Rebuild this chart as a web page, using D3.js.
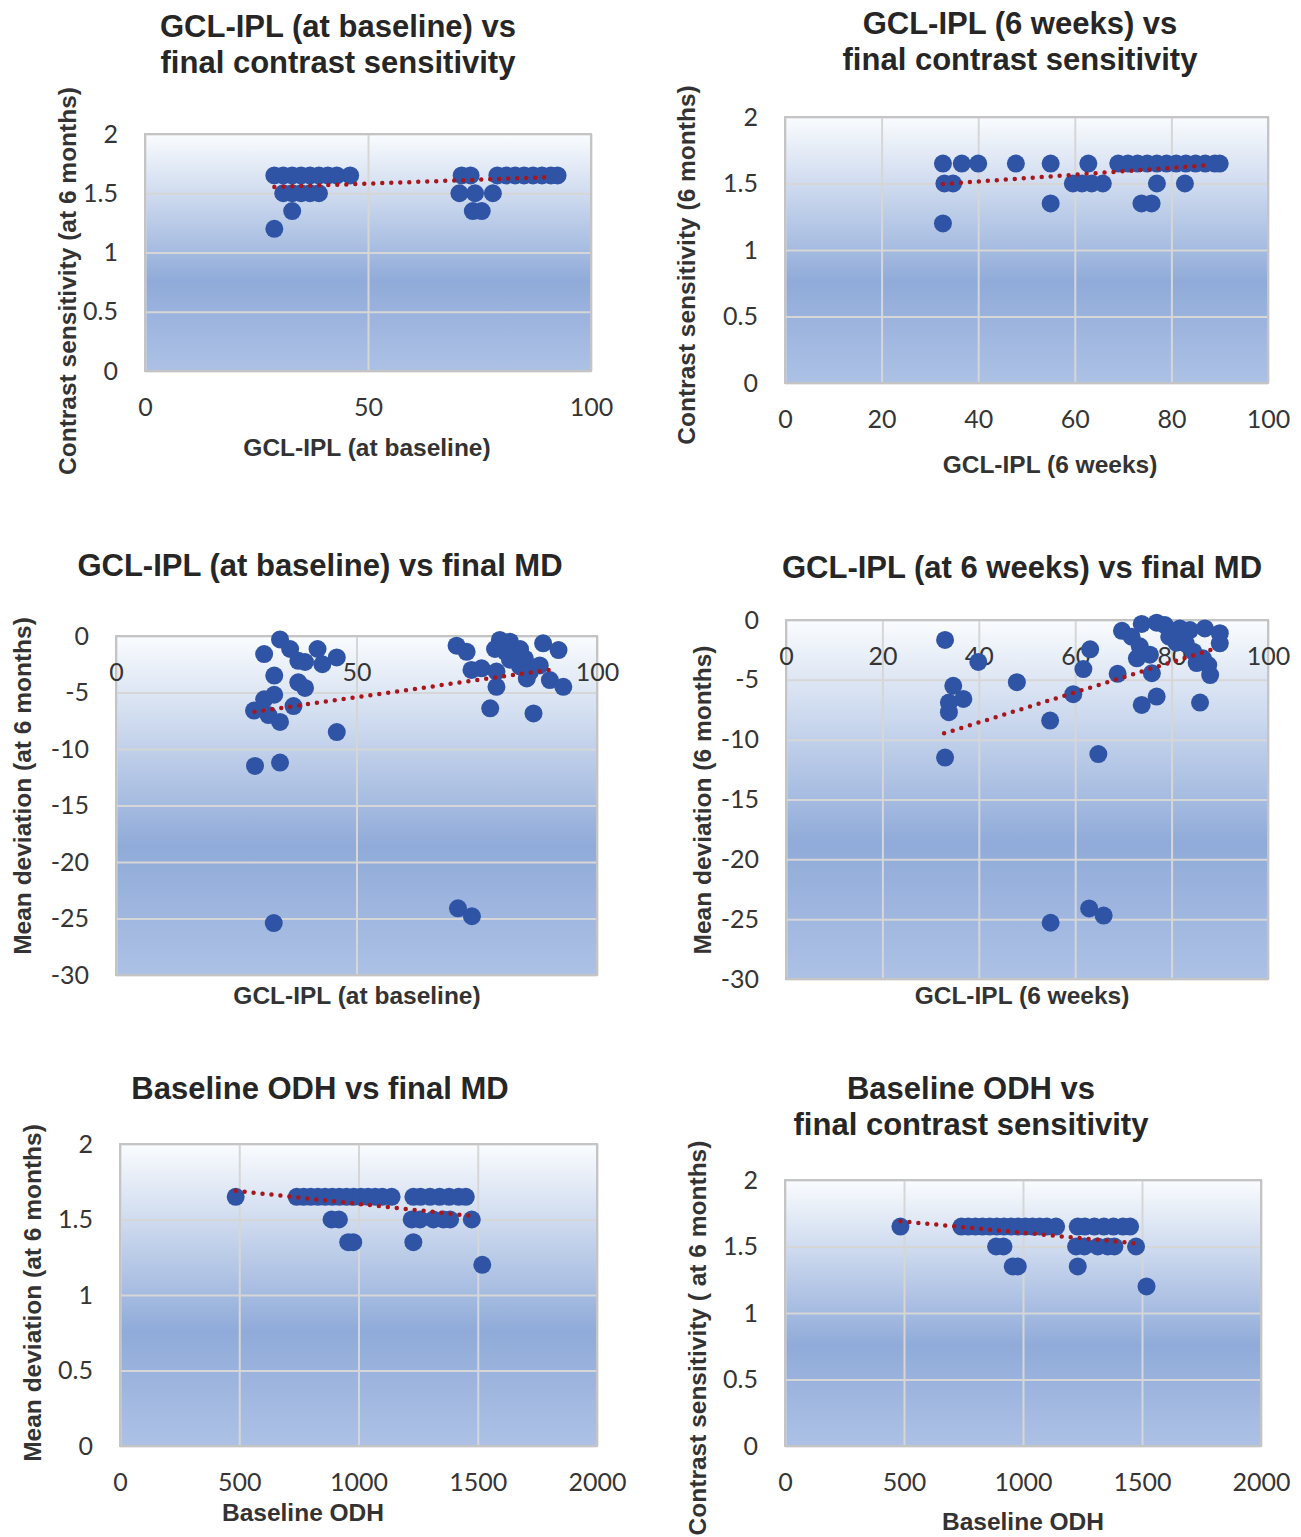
<!DOCTYPE html>
<html>
<head>
<meta charset="utf-8">
<style>
  body { margin: 0; background: #fff; }
  .tick text { font-family: Lato, "Open Sans", sans-serif; font-size: 25px; fill: #353535; }
  .title { font-family: "Liberation Sans", Arial, sans-serif; font-weight: bold; font-size: 31px; fill: #262626; }
  .axt { font-family: "Liberation Sans", Arial, sans-serif; font-weight: bold; font-size: 24.5px; fill: #333; }
</style>
</head>
<body>
<div id="chart"></div>
<script src="https://cdn.jsdelivr.net/npm/d3@7"></script>
<script>
// ---- data ----
// panel 1: GCL-IPL (baseline) vs final contrast sensitivity
const gclBase_cs = [29, 31, 33, 35, 37, 39, 41, 43, 46, 71, 73, 79, 81, 83, 85, 87, 89, 91, 92.5,
                    31, 33, 35, 37, 39, 70.5, 74, 78,
                    33, 73.5, 75.5,
                    29]
const cs_p1 = [1.65, 1.65, 1.65, 1.65, 1.65, 1.65, 1.65, 1.65, 1.65, 1.65, 1.65, 1.65, 1.65, 1.65, 1.65, 1.65, 1.65, 1.65, 1.65,
               1.5, 1.5, 1.5, 1.5, 1.5, 1.5, 1.5, 1.5,
               1.35, 1.35, 1.35,
               1.2]
const trend_p1 = [[29, 1.553], [91.3, 1.637]]

// panel 2: GCL-IPL (6 weeks) vs final contrast sensitivity
const gcl6w_cs = [32.7, 36.6, 40, 47.8, 55, 62.8, 69, 71, 73, 75, 77, 79, 81, 83, 85, 87, 89, 90,
                  33, 34.8, 59.6, 61.5, 63.5, 65.8, 77, 82.8,
                  55, 73.8, 75.9,
                  32.7]
const cs_p2 = [1.65, 1.65, 1.65, 1.65, 1.65, 1.65, 1.65, 1.65, 1.65, 1.65, 1.65, 1.65, 1.65, 1.65, 1.65, 1.65, 1.65, 1.65,
               1.5, 1.5, 1.5, 1.5, 1.5, 1.5, 1.5, 1.5,
               1.35, 1.35, 1.35,
               1.2]
const trend_p2 = [[32.7, 1.496], [88.3, 1.639]]

// panel 3: GCL-IPL (baseline) vs final MD
const gclBase_md = [34.1, 30.8, 36.2, 37.9, 39.3, 41.9, 42.9, 45.9, 32.9, 37.9, 39.3, 32.9, 30.8, 28.7, 31.7, 34.1, 36.9, 45.9, 28.9, 34.1, 32.8,
                    70.8, 72.9, 79.8, 81.9, 78.8, 81, 84, 81.9, 85, 88.8, 92, 73.9, 76, 79.1, 79.1, 85.4, 88.1, 90.2, 93, 77.8, 86.8, 84, 86, 71.1, 74]
const md_p3 = [-0.3, -1.6, -1.15, -2.2, -2.3, -1.15, -2.5, -1.9, -3.5, -4.1, -4.6, -5.2, -5.6, -6.6, -7.0, -7.6, -6.2, -8.5, -11.5, -11.2, -25.4,
               -0.86, -1.4, -0.35, -0.5, -1.15, -1.4, -1.15, -2.1, -2.0, -0.65, -1.24, -3.0, -2.86, -3.15, -4.5, -3.75, -2.6, -3.9, -4.5, -6.4, -6.85, -2.7, -3.2, -24.1, -24.8]
const trend_p3 = [[28.8, -6.7], [91.6, -2.9]]

// panel 4: GCL-IPL (6 weeks) vs final MD
const gcl6w_md = [33, 39.9, 34.7, 33.8, 36.8, 33.8, 47.9, 54.8, 33, 59.6, 64.8, 61.7, 63.1, 68.8, 73.8, 76.9, 85.9, 75.9,
                  69.7, 71.7, 73.8, 76.9, 78.6, 81.7, 83.8, 86.9, 90, 90, 79.5, 81, 83, 73.4, 72.8, 75.5, 84.5, 85.2, 87.6, 88, 86.5,
                  54.9, 62.9, 65.9]
const md_p4 = [-1.67, -3.5, -5.5, -6.9, -6.6, -7.7, -5.2, -8.4, -11.5, -6.2, -11.2, -4.1, -2.45, -4.5, -7.1, -6.4, -6.9, -4.45,
               -0.9, -1.4, -0.33, -0.22, -0.42, -0.7, -0.84, -0.7, -1.1, -1.95, -1.4, -1.9, -2.0, -2.2, -3.2, -2.9, -2.65, -3.6, -3.76, -4.6, -3.2,
               -25.3, -24.1, -24.7]
const trend_p4 = [[32.8, -9.47], [89.7, -2.3]]

// panels 5 and 6: baseline ODH vs final value (same points in both)
const odh = [485, 741, 770, 800, 830, 860, 890, 920, 950, 980, 1010, 1040, 1070, 1100, 1139, 1230, 1260, 1300, 1340, 1380, 1420, 1450,
             887, 918, 1223, 1258, 1314, 1356, 1384, 1475,
             957, 978, 1230,
             1519]
const cs_odh = [1.65, 1.65, 1.65, 1.65, 1.65, 1.65, 1.65, 1.65, 1.65, 1.65, 1.65, 1.65, 1.65, 1.65, 1.65, 1.65, 1.65, 1.65, 1.65, 1.65, 1.65, 1.65,
                1.5, 1.5, 1.5, 1.5, 1.5, 1.5, 1.5, 1.5,
                1.35, 1.35, 1.35,
                1.2]
const trend_odh = [[485, 1.69], [1495, 1.52]]

const ticksCS = [0, 0.5, 1, 1.5, 2]
const ticksMD = [0, -5, -10, -15, -20, -25, -30]
const ticks50 = [0, 50, 100]
const ticks20 = [0, 20, 40, 60, 80, 100]
const ticksODH = [0, 500, 1000, 1500, 2000]

// ---- layout ----
const width = 1301
const height = 1537

const panels = [
  { x: gclBase_cs, y: cs_p1, trend: trend_p1, xd: [0, 100], yd: [0, 2], xt: ticks50, yt: ticksCS,
    box: [145, 591, 134, 371], title: ['GCL-IPL (at baseline) vs', 'final contrast sensitivity'], tx: 338, ty: 26,
    xlab: 'GCL-IPL (at baseline)', xlx: 367, xly: 447, ylab: 'Contrast sensitivity (at 6 months)', ylx: 67, yly: 281 },
  { x: gcl6w_cs, y: cs_p2, trend: trend_p2, xd: [0, 100], yd: [0, 2], xt: ticks20, yt: ticksCS,
    box: [785, 1268, 117, 383], title: ['GCL-IPL (6 weeks) vs', 'final contrast sensitivity'], tx: 1020, ty: 23,
    xlab: 'GCL-IPL (6 weeks)', xlx: 1050, xly: 464, ylab: 'Contrast sensitivity (6 months)', ylx: 686, yly: 265 },
  { x: gclBase_md, y: md_p3, trend: trend_p3, xd: [0, 100], yd: [-30, 0], xt: ticks50, yt: ticksMD,
    box: [116, 597, 636, 975], title: ['GCL-IPL (at baseline) vs final MD'], tx: 320, ty: 565,
    xlab: 'GCL-IPL (at baseline)', xlx: 357, xly: 995, ylab: 'Mean deviation (at 6 months)', ylx: 22, yly: 786 },
  { x: gcl6w_md, y: md_p4, trend: trend_p4, xd: [0, 100], yd: [-30, 0], xt: ticks20, yt: ticksMD,
    box: [786, 1268, 620, 979], title: ['GCL-IPL (at 6 weeks) vs final MD'], tx: 1022, ty: 567,
    xlab: 'GCL-IPL (6 weeks)', xlx: 1022, xly: 995, ylab: 'Mean deviation (6 months)', ylx: 702, yly: 800 },
  { x: odh, y: cs_odh, trend: trend_odh, xd: [0, 2000], yd: [0, 2], xt: ticksODH, yt: ticksCS,
    box: [120, 597, 1144, 1446], title: ['Baseline ODH vs final MD'], tx: 320, ty: 1088,
    xlab: 'Baseline ODH', xlx: 303, xly: 1512, ylab: 'Mean deviation (at 6 months)', ylx: 32, yly: 1293 },
  { x: odh, y: cs_odh, trend: trend_odh, xd: [0, 2000], yd: [0, 2], xt: ticksODH, yt: ticksCS,
    box: [785, 1261, 1180, 1446], title: ['Baseline ODH vs', 'final contrast sensitivity'], tx: 971, ty: 1088,
    xlab: 'Baseline ODH', xlx: 1023, xly: 1521, ylab: 'Contrast sensitivity ( at 6 months)', ylx: 697, yly: 1338 }
]

const svg = d3.select('#chart')
  .append('svg')
  .attr('width', width)
  .attr('height', height)

svg.append('rect').attr('width', width).attr('height', height).attr('fill', '#fff')

const grad = svg.append('defs').append('linearGradient')
  .attr('id', 'bg')
  .attr('x1', 0).attr('y1', 0).attr('x2', 0).attr('y2', 1)
grad.append('stop').attr('offset', '0%').attr('stop-color', '#fafcfe')
grad.append('stop').attr('offset', '62%').attr('stop-color', '#90abd9')
grad.append('stop').attr('offset', '100%').attr('stop-color', '#adc1e5')

panels.forEach(p => {
  const [l, r, t, b] = p.box
  const x = d3.scaleLinear().domain(p.xd).range([l, r])
  const y = d3.scaleLinear().domain(p.yd).range([b, t])
  const g = svg.append('g')

  g.append('rect')
    .attr('x', l).attr('y', t)
    .attr('width', r - l).attr('height', b - t)
    .attr('fill', 'url(#bg)')

  // gridlines
  g.append('g')
    .attr('transform', `translate(${l},0)`)
    .call(d3.axisLeft(y).tickValues(p.yt).tickSize(-(r - l)).tickFormat(''))
    .call(s => s.select('.domain').remove())
    .selectAll('line').attr('stroke', '#d6d6d6').attr('stroke-width', 2)
  g.append('g')
    .attr('transform', `translate(0,${b})`)
    .call(d3.axisBottom(x).tickValues(p.xt).tickSize(-(b - t)).tickFormat(''))
    .call(s => s.select('.domain').remove())
    .selectAll('line').attr('stroke', '#d6d6d6').attr('stroke-width', 2)

  g.append('rect')
    .attr('x', l).attr('y', t)
    .attr('width', r - l).attr('height', b - t)
    .attr('fill', 'none').attr('stroke', '#c4c4c4').attr('stroke-width', 2)

  // tick labels
  g.append('g')
    .attr('transform', `translate(${l},0)`)
    .call(d3.axisLeft(y).tickValues(p.yt).tickSize(0).tickPadding(27).tickFormat(d => String(d)))
    .call(s => s.select('.domain').remove())
  // x labels sit under the y = 0 line
  g.append('g')
    .attr('transform', `translate(0,${y(0)})`)
    .call(d3.axisBottom(x).tickValues(p.xt).tickSize(0).tickPadding(27).tickFormat(d => String(d)))
    .call(s => s.select('.domain').remove())
  g.selectAll('.tick text').attr('font-family', null).attr('font-size', null)

  // points
  g.append('g')
    .selectAll('circle')
    .data(p.x)
    .enter()
    .append('circle')
    .attr('cx', d => x(d))
    .attr('cy', (d, i) => y(p.y[i]))
    .attr('r', 9)
    .attr('fill', '#2f54a5')

  // linear trendline
  g.append('line')
    .attr('x1', x(p.trend[0][0])).attr('y1', y(p.trend[0][1]))
    .attr('x2', x(p.trend[1][0])).attr('y2', y(p.trend[1][1]))
    .attr('stroke', '#a8161c')
    .attr('stroke-width', 4.5)
    .attr('stroke-linecap', 'round')
    .attr('stroke-dasharray', '0 9')

  // titles
  p.title.forEach((line, k) => {
    svg.append('text')
      .attr('class', 'title')
      .attr('x', p.tx).attr('y', p.ty + k * 36)
      .attr('dy', '0.35em')
      .attr('text-anchor', 'middle')
      .text(line)
  })
  svg.append('text')
    .attr('class', 'axt')
    .attr('x', p.xlx).attr('y', p.xly)
    .attr('dy', '0.35em')
    .attr('text-anchor', 'middle')
    .text(p.xlab)
  svg.append('text')
    .attr('class', 'axt')
    .attr('transform', `translate(${p.ylx},${p.yly}) rotate(-90)`)
    .attr('dy', '0.35em')
    .attr('text-anchor', 'middle')
    .text(p.ylab)
})
</script>
</body>
</html>
